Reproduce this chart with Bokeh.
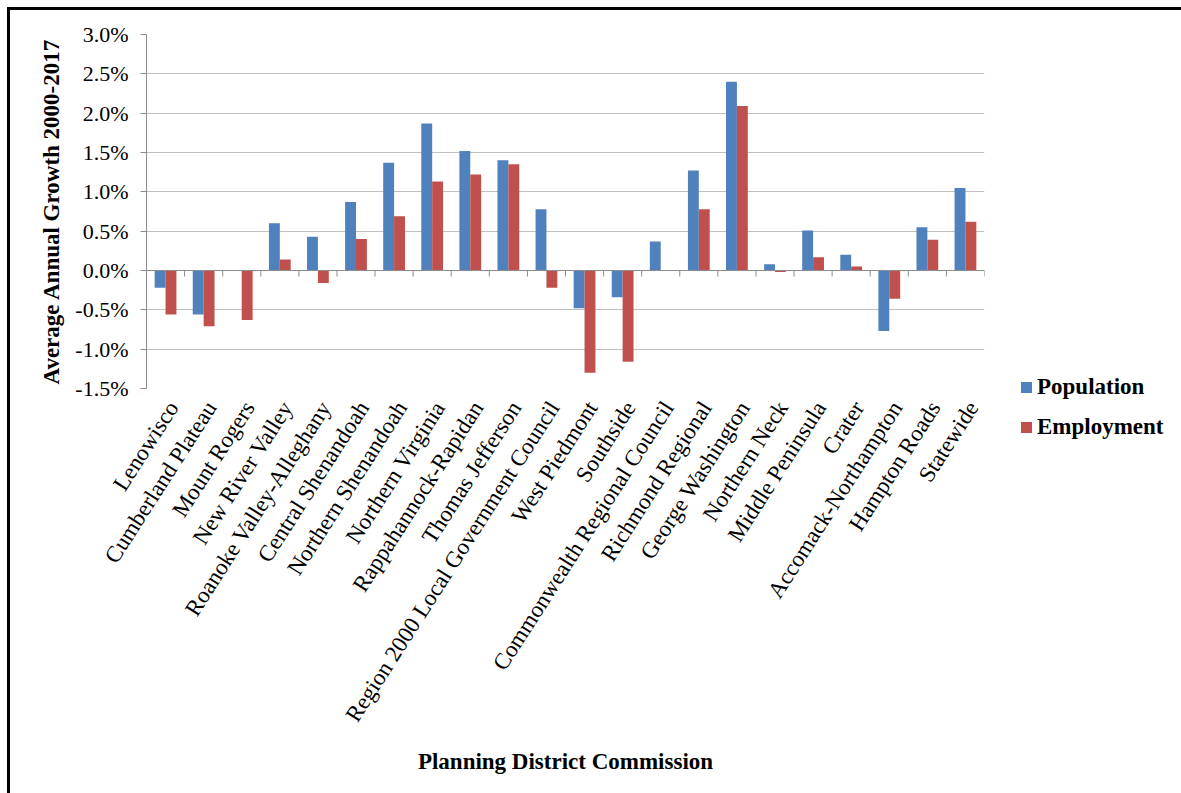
from bokeh.plotting import figure
from bokeh.layouts import row
from bokeh.models import (Range1d, PrintfTickFormatter, FixedTicker, Span, Div)
from bokeh.embed import file_html
from bokeh.resources import INLINE

categories = [
    "Lenowisco", "Cumberland Plateau", "Mount Rogers", "New River Valley",
    "Roanoke Valley-Alleghany", "Central Shenandoah", "Northern Shenandoah",
    "Northern Virginia", "Rappahannock-Rapidan", "Thomas Jefferson",
    "Region 2000 Local Government Council", "West Piedmont", "Southside",
    "Commonwealth Regional Council", "Richmond Regional", "George Washington",
    "Northern Neck", "Middle Peninsula", "Crater", "Accomack-Northampton",
    "Hampton Roads", "Statewide",
]
population = [-0.22, -0.56, 0.0, 0.60, 0.43, 0.87, 1.37, 1.87, 1.52, 1.40,
              0.78, -0.48, -0.34, 0.37, 1.27, 2.40, 0.08, 0.51, 0.20, -0.77,
              0.55, 1.05]
employment = [-0.56, -0.71, -0.63, 0.14, -0.16, 0.40, 0.69, 1.13, 1.22, 1.35,
              -0.22, -1.30, -1.16, 0.0, 0.78, 2.09, -0.02, 0.17, 0.05, -0.36,
              0.39, 0.62]
y_ticks = [-1.5, -1.0, -0.5, 0.0, 0.5, 1.0, 1.5, 2.0, 2.5, 3.0]
series_names = ["Population", "Employment"]
series_colors = ["#4F81BD", "#C0504D"]

FONT = "Liberation Serif"
H = 780
WP = 990           # main chart canvas width
WL = 176           # legend area width
MB_L, MB_T, MB_R, MB_B = 136, 24, 16, 402
Y0, Y1 = y_ticks[0], y_ticks[-1]
N = len(categories)

p = figure(width=WP, height=H, x_range=Range1d(0, N), y_range=Range1d(Y0, Y1),
           output_backend="svg", toolbar_location=None,
           min_border_left=MB_L, min_border_top=MB_T, min_border_right=MB_R,
           min_border_bottom=MB_B)
p.outline_line_color = None
p.background_fill_color = "white"
p.border_fill_color = "white"

bw = 0.2857
centers = [i + 0.5 for i in range(N)]
r1 = p.vbar(x=[c - bw / 2 for c in centers], top=population, width=bw,
            fill_color=series_colors[0], line_color=None)
r2 = p.vbar(x=[c + bw / 2 for c in centers], top=employment, width=bw,
            fill_color=series_colors[1], line_color=None)

# zero (category) axis line with tick marks between categories
axis_gray = "#8C8C8C"
p.add_layout(Span(location=0, dimension="width", line_color=axis_gray, line_width=1))
frame_h = H - MB_T - MB_B
tick_len = 6 * (Y1 - Y0) / frame_h
bounds = list(range(1, N + 1))
p.segment(x0=bounds, y0=[0] * N, x1=bounds, y1=[-tick_len] * N,
          line_color=axis_gray, line_width=1)

# y axis
p.yaxis.ticker = FixedTicker(ticks=y_ticks)
p.yaxis.formatter = PrintfTickFormatter(format="%.1f%%")
p.yaxis.minor_tick_line_color = None
p.yaxis.major_tick_out = 6
p.yaxis.major_tick_in = 0
p.yaxis.axis_line_color = axis_gray
p.yaxis.major_tick_line_color = axis_gray
p.yaxis.major_label_text_font = FONT
p.yaxis.major_label_text_font_size = "22px"
p.yaxis.major_label_text_color = "black"
p.yaxis.major_label_standoff = 12
p.yaxis.axis_label = "Average Annual Growth 2000-2017"
p.yaxis.axis_label_text_font = FONT
p.yaxis.axis_label_text_font_style = "bold"
p.yaxis.axis_label_text_font_size = "23px"
p.yaxis.axis_label_text_color = "black"
p.yaxis.axis_label_standoff = 8

p.ygrid.ticker = FixedTicker(ticks=y_ticks)
p.ygrid.grid_line_color = "#BFBFBF"
p.ygrid.grid_line_width = 1
p.xgrid.grid_line_color = None

# x axis: category labels at the bottom of the plot area
label_shift = 0.2
label_ticks = [c + label_shift for c in centers]
p.xaxis.ticker = FixedTicker(ticks=label_ticks)
p.xaxis.major_label_overrides = {t: c for t, c in zip(label_ticks, categories)}
p.xaxis.axis_line_color = None
p.xaxis.major_tick_line_color = None
p.xaxis.minor_tick_line_color = None
p.xaxis.major_label_orientation = 1.0
p.xaxis.major_label_text_font = FONT
p.xaxis.major_label_text_font_size = "23px"
p.xaxis.major_label_text_color = "black"
p.xaxis.major_label_standoff = 9
p.xaxis.axis_label = "Planning District Commission"
p.xaxis.axis_label_text_font = FONT
p.xaxis.axis_label_text_font_style = "bold"
p.xaxis.axis_label_text_font_size = "23px"
p.xaxis.axis_label_text_color = "black"
p.xaxis.axis_label_standoff = 13

# legend (HTML) to the right of the chart
LEG_TOP, LEG_STEP, LEG_LEFT, SW = 359, 40, 16, 11
items_html = ""
for k, (name, col) in enumerate(zip(series_names, series_colors)):
    items_html += (
        f'<div style="position:absolute;left:{LEG_LEFT}px;top:{LEG_TOP + k * LEG_STEP}px;'
        f'height:26px;line-height:26px;display:flex;align-items:center;white-space:nowrap;">'
        f'<span style="display:inline-block;width:{SW}px;height:{SW}px;'
        f'background:{col};margin-right:5px;"></span>{name}</div>'
    )
legend_div = Div(
    width=WL, height=H,
    text=(f'<div style="position:relative;width:{WL}px;height:{H}px;'
          f"font-family:'{FONT}';font-weight:bold;font-size:23px;color:black;\">"
          f'{items_html}</div>'),
)

layout = row(p, legend_div)
layout.styles = {"border-top": "3px solid black", "border-left": "3px solid black",
                 "margin-top": "7px", "margin-left": "7px"}

open("out.html", "w").write(file_html(layout, INLINE))
